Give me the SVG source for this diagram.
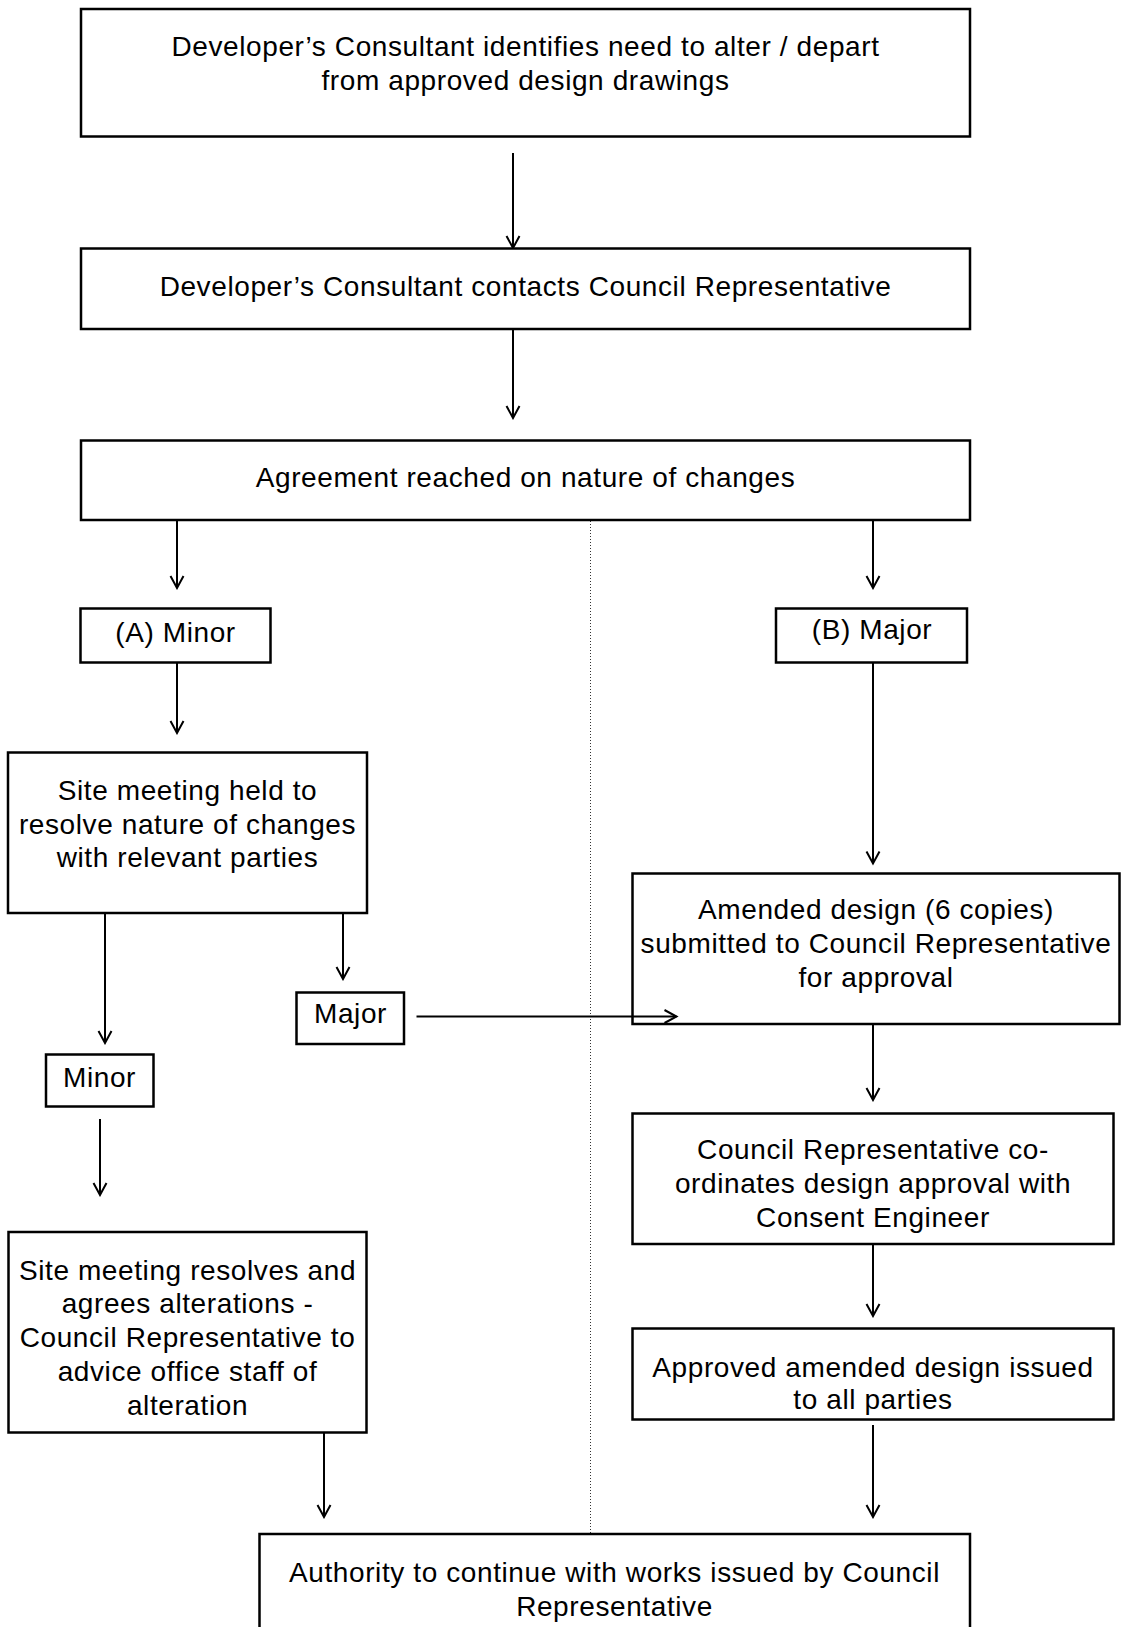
<svg xmlns="http://www.w3.org/2000/svg" width="1121" height="1627" viewBox="0 0 1121 1627">
<style>
.box{fill:#fff;stroke:#000;stroke-width:2.5}
.t{font-family:"Liberation Sans",Arial,sans-serif;font-size:28px;letter-spacing:0.6px;text-anchor:middle;fill:#000}
.c{fill:none;stroke:#000;stroke-width:2;marker-end:url(#arr)}
</style>
<defs>
<marker id="arr" markerUnits="userSpaceOnUse" viewBox="-14 -8 16 16" markerWidth="16" markerHeight="16" refX="0" refY="0" orient="auto">
<path d="M-12,-6.5 L0,0 L-12,6.5" fill="none" stroke="#000" stroke-width="2"/>
</marker>
</defs>
<rect width="1121" height="1627" fill="#fff"/>
<line x1="590.5" y1="518" x2="590.5" y2="1534" stroke="#333" stroke-width="1" stroke-dasharray="1 2"/>
<g id="connectors">
<line class="c" x1="513" y1="153" x2="513" y2="248"/>
<line class="c" x1="513" y1="322" x2="513" y2="418"/>
<line class="c" x1="177" y1="513" x2="177" y2="588"/>
<line class="c" x1="873" y1="513" x2="873" y2="588"/>
<line class="c" x1="177" y1="657" x2="177" y2="733"/>
<line class="c" x1="873" y1="657" x2="873" y2="863.5"/>
<line class="c" x1="105" y1="909" x2="105" y2="1043"/>
<line class="c" x1="343" y1="913" x2="343" y2="979"/>
<line class="c" x1="100" y1="1119" x2="100" y2="1195"/>
<line class="c" x1="873" y1="1018" x2="873" y2="1100"/>
<line class="c" x1="873" y1="1234" x2="873" y2="1316"/>
<line class="c" x1="324" y1="1424" x2="324" y2="1517"/>
<line class="c" x1="873" y1="1425" x2="873" y2="1517"/>
</g>
<g id="n1"><rect class="box" x="81" y="9" width="889" height="127.5"/>
<text class="t" x="525.5" y="56">Developer’s Consultant identifies need to alter / depart</text>
<text class="t" x="525.5" y="90">from approved design drawings</text></g>
<g id="n2"><rect class="box" x="81" y="248.5" width="889" height="80.5"/>
<text class="t" x="525.5" y="296">Developer’s Consultant contacts Council Representative</text></g>
<g id="n3"><rect class="box" x="81" y="440.5" width="889" height="79.5"/>
<text class="t" x="525.5" y="487">Agreement reached on nature of changes</text></g>
<g id="n4"><rect class="box" x="80.5" y="608.5" width="190" height="54"/>
<text class="t" x="175.5" y="642">(A) Minor</text></g>
<g id="n5"><rect class="box" x="776" y="608.5" width="191" height="54"/>
<text class="t" x="872" y="639">(B) Major</text></g>
<g id="n6"><rect class="box" x="8" y="752.5" width="359" height="160.5"/>
<text class="t" x="187.5" y="800">Site meeting held to</text>
<text class="t" x="187.5" y="834">resolve nature of changes</text>
<text class="t" x="187.5" y="867">with relevant parties</text></g>
<g id="n7"><rect class="box" x="296.5" y="992.5" width="107.5" height="51.5"/>
<text class="t" x="350.5" y="1023">Major</text></g>
<g id="n8"><rect class="box" x="46" y="1054.5" width="107.5" height="52"/>
<text class="t" x="99.5" y="1086.5">Minor</text></g>
<g id="n9"><rect class="box" x="632.5" y="873.5" width="487" height="150.5"/>
<text class="t" x="876" y="919">Amended design (6 copies)</text>
<text class="t" x="876" y="953">submitted to Council Representative</text>
<text class="t" x="876" y="987">for approval</text></g>
<line class="c" x1="416.5" y1="1016.5" x2="676.5" y2="1016.5"/>
<g id="n10"><rect class="box" x="632.5" y="1113.5" width="481" height="130.5"/>
<text class="t" x="873" y="1159">Council Representative co-</text>
<text class="t" x="873" y="1193">ordinates design approval with</text>
<text class="t" x="873" y="1227">Consent Engineer</text></g>
<g id="n11"><rect class="box" x="632.5" y="1328.5" width="481" height="91"/>
<text class="t" x="873" y="1377">Approved amended design issued</text>
<text class="t" x="873" y="1409">to all parties</text></g>
<g id="n12"><rect class="box" x="8.5" y="1232" width="358" height="200.5"/>
<text class="t" x="187.5" y="1280">Site meeting resolves and</text>
<text class="t" x="187.5" y="1313">agrees alterations -</text>
<text class="t" x="187.5" y="1347">Council Representative to</text>
<text class="t" x="187.5" y="1381">advice office staff of</text>
<text class="t" x="187.5" y="1415">alteration</text></g>
<g id="n13"><rect class="box" x="259.5" y="1534" width="710.5" height="120"/>
<text class="t" x="614.5" y="1582">Authority to continue with works issued by Council</text>
<text class="t" x="614.5" y="1616">Representative</text></g>
</svg>
